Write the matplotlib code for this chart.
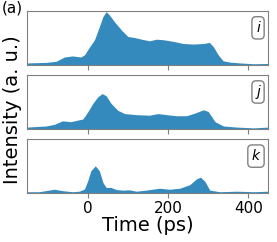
import matplotlib
matplotlib.use('Agg')
import matplotlib.pyplot as plt

# time axis (ps) and normalised intensity
t_i = [-150, -104, -79, -58, -38, -17, -8, 5, 17, 29, 38, 46, 54, 67, 84, 100,
       117, 134, 154, 171, 188, 213, 238, 263, 288, 303, 313, 325, 337, 354,
       379, 413, 450]
y_i = [0.04, 0.05, 0.07, 0.15, 0.17, 0.15, 0.19, 0.34, 0.47, 0.71, 0.90, 0.99,
       0.93, 0.80, 0.65, 0.53, 0.51, 0.48, 0.45, 0.48, 0.47, 0.44, 0.40, 0.39,
       0.40, 0.42, 0.34, 0.19, 0.08, 0.055, 0.04, 0.025, 0.03]

t_j = [-150, -104, -83, -63, -42, -12, 0, 13, 25, 36, 46, 58, 75, 92, 121, 154,
       175, 196, 221, 246, 267, 288, 300, 317, 338, 371, 413, 450]
y_j = [0.04, 0.06, 0.09, 0.155, 0.14, 0.19, 0.32, 0.48, 0.60, 0.66, 0.62, 0.48,
       0.35, 0.29, 0.27, 0.26, 0.29, 0.27, 0.25, 0.25, 0.30, 0.36, 0.33, 0.14,
       0.06, 0.04, 0.025, 0.04]

t_k = [-150, -121, -83, -63, -38, -21, -8, 0, 8, 19, 29, 38, 46, 58, 71, 88,
       104, 121, 146, 179, 204, 229, 254, 271, 281, 292, 304, 329, 371, 413, 450]
y_k = [0.03, 0.03, 0.076, 0.05, 0.03, 0.04, 0.08, 0.23, 0.42, 0.51, 0.42, 0.20,
       0.11, 0.11, 0.07, 0.06, 0.065, 0.04, 0.06, 0.095, 0.076, 0.095, 0.16,
       0.27, 0.30, 0.22, 0.06, 0.03, 0.04, 0.03, 0.04]

labels = ['i', 'j', 'k']
xticks = [0, 200, 400]

series = [(t_i, y_i), (t_j, y_j), (t_k, y_k)]
fill_color = '#348ABD'
frame_color = '#808080'

fig = plt.figure(figsize=(2.77, 2.42), dpi=100)

left, width = 0.099, 0.870
bottoms = [0.731, 0.466, 0.201]
height = 0.223

axes = []
for n, (t, y) in enumerate(series):
    ax = fig.add_axes([left, bottoms[n], width, height])
    ax.fill_between(t, y, 0, color=fill_color, linewidth=0)
    ax.set_xlim(-150, 450)
    ax.set_ylim(0, 1.0)
    ax.set_yticks([])
    ax.set_xticks(xticks)
    for s in ax.spines.values():
        s.set_color(frame_color)
    ax.tick_params(axis='x', colors=frame_color, labelcolor='black', labelsize=11,
                   length=3.5, pad=2)
    if n < 2:
        ax.tick_params(labelbottom=False)
    ax.text(0.965, 0.82, labels[n], transform=ax.transAxes, ha='right', va='top',
            fontsize=10, style='italic',
            bbox=dict(boxstyle='round,pad=0.3', facecolor='white', edgecolor=frame_color))
    axes.append(ax)

axes[-1].set_xlabel('Time (ps)', fontsize=14, labelpad=0)
fig.text(0.045, 0.545, 'Intensity (a. u.)', rotation=90, fontsize=14,
         ha='center', va='center')
fig.text(0.005, 0.998, '(a)', fontsize=11, ha='left', va='top')

fig.savefig('out.png', dpi=100)
